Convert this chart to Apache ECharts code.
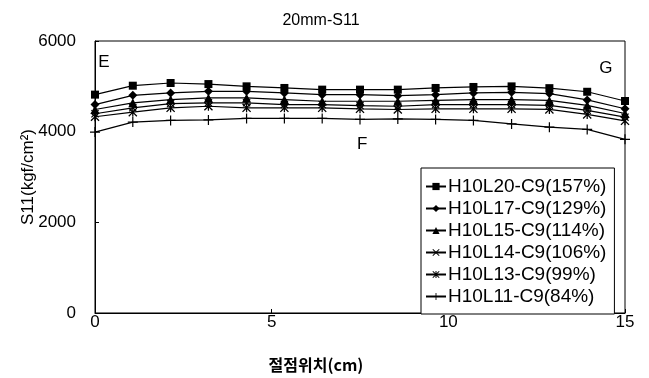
<!DOCTYPE html>
<html>
<head>
<meta charset="utf-8">
<script src="https://cdn.jsdelivr.net/npm/echarts@6/dist/echarts.min.js"></script>
<style>
  html, body { margin: 0; padding: 0; background: #fff; }
  #chart { width: 649px; height: 378px; }
</style>
</head>
<body>
<div id="chart"></div>
<script>
// Node positions along the section (cm)
const positions = [0, 1.07, 2.14, 3.21, 4.29, 5.36, 6.43, 7.5, 8.57, 9.64, 10.71, 11.79, 12.86, 13.93, 15];

// S11 stress per case (kgf/cm2)
const seriesNames = [
  'H10L20-C9(157%)',
  'H10L17-C9(129%)',
  'H10L15-C9(114%)',
  'H10L14-C9(106%)',
  'H10L13-C9(99%)',
  'H10L11-C9(84%)'
];
const s157 = [4817, 5014, 5073, 5050, 5000, 4964, 4927, 4927, 4927, 4964, 4986, 4999, 4960, 4880, 4677];
const s129 = [4598, 4802, 4854, 4890, 4890, 4854, 4817, 4817, 4795, 4817, 4854, 4868, 4840, 4700, 4506];
const s114 = [4489, 4636, 4708, 4745, 4745, 4708, 4671, 4671, 4671, 4692, 4708, 4708, 4690, 4580, 4400];
const s106 = [4395, 4526, 4620, 4636, 4636, 4598, 4598, 4576, 4561, 4598, 4598, 4598, 4580, 4470, 4320];
const s99  = [4329, 4430, 4526, 4561, 4526, 4526, 4526, 4504, 4489, 4504, 4504, 4504, 4490, 4380, 4240];
const s84  = [3990, 4211, 4248, 4260, 4292, 4292, 4292, 4270, 4280, 4270, 4248, 4170, 4100, 4050, 3830];

// Axis ticks
const xTicks = [0, 5, 10, 15];
const yTicks = [0, 2000, 4000, 6000];

// Region labels placed in data coordinates
const regionLabels = [
  { text: 'E', x: 0.25, y: 5540 },
  { text: 'G', x: 14.46, y: 5408 },
  { text: 'F', x: 7.56, y: 3722 }
];

const allValues = [s157, s129, s114, s106, s99, s84];

const symX = 'path://M1,0L5,4L9,0L10,1L6,5L10,9L9,10L5,6L1,10L0,9L4,5L0,1Z';
const symAst = 'path://M4.3,0H5.7V10H4.3Z M1,0L5,4L9,0L10,1L6,5L10,9L9,10L5,6L1,10L0,9L4,5L0,1Z';
const symPlus = 'path://M4.4,0H5.6V4.4H10V5.6H5.6V10H4.4V5.6H0V4.4H4.4Z';
const symbols = ['rect', 'diamond', 'triangle', symX, symAst, symPlus];
const symbolSizes = [8, 9, 9, 8, 9, 10];

const FONT = '"Liberation Sans", Arial, sans-serif';

const chart = echarts.init(document.getElementById('chart'), null, { renderer: 'canvas' });

const series = seriesNames.map((name, i) => ({
  name: name,
  type: 'line',
  data: positions.map((p, k) => [p, allValues[i][k]]),
  symbol: symbols[i],
  symbolSize: symbolSizes[i],
  showAllSymbol: true,
  lineStyle: { color: '#000', width: 1.2 },
  itemStyle: { color: '#000', borderColor: '#000', borderWidth: 0 },
  emphasis: { disabled: true },
  animation: false,
  z: 10 - i
}));

chart.setOption({
  animation: false,
  backgroundColor: '#fff',
  title: {
    text: '20mm-S11',
    left: 316,
    textAlign: 'center',
    top: 8,
    textStyle: { fontFamily: FONT, fontSize: 16, fontWeight: 'normal', color: '#000' }
  },
  grid: {
    left: 95, right: 24, top: 41, bottom: 63,
    show: true, borderColor: '#000', borderWidth: 1, backgroundColor: 'transparent'
  },
  legend: {
    orient: 'vertical',
    left: 421,
    top: 168,
    padding: [9, 8, 8, 4],
    itemGap: 3,
    itemWidth: 20,
    itemHeight: 9,
    backgroundColor: '#fff',
    borderColor: '#000',
    borderWidth: 1,
    textStyle: { fontFamily: FONT, fontSize: 19, lineHeight: 19, color: '#000', padding: [0, 0, 0, -3] },
    data: seriesNames
  },
  xAxis: {
    type: 'value',
    min: xTicks[0], max: xTicks[xTicks.length - 1], interval: 5,
    name: '절점위치(cm)',
    nameLocation: 'middle',
    nameGap: 44,
    nameMoveOverlap: false,
    nameTextStyle: {
      fontFamily: '"Noto Sans CJK KR", sans-serif', fontSize: 16, fontWeight: 'bold', color: '#000',
      padding: [0, 88, 0, 0]
    },
    axisLine: { lineStyle: { color: '#000', width: 1 } },
    axisTick: { inside: true, length: 4, lineStyle: { color: '#000' } },
    axisLabel: { fontFamily: FONT, fontSize: 17, color: '#000', margin: 1, formatter: v => String(v) },
    splitLine: { show: false }
  },
  yAxis: {
    type: 'value',
    min: yTicks[0], max: yTicks[yTicks.length - 1], interval: 2000,
    name: 'S11(kgf/cm²)',
    nameLocation: 'middle',
    nameGap: 58,
    nameMoveOverlap: false,
    nameTextStyle: { fontFamily: FONT, fontSize: 17, color: '#000' },
    axisLine: { show: true, lineStyle: { color: '#000', width: 1 } },
    axisTick: { show: true, inside: true, length: 4, lineStyle: { color: '#000' } },
    axisLabel: { fontFamily: FONT, fontSize: 17, color: '#000', margin: 19, formatter: v => String(v) },
    splitLine: { show: false }
  },
  series: series
});

// Region letters positioned through the chart's own coordinate system
chart.setOption({
  graphic: regionLabels.map(l => {
    const pt = chart.convertToPixel({ gridIndex: 0 }, [l.x, l.y]);
    return {
      type: 'text',
      x: pt[0], y: pt[1],
      style: {
        text: l.text, fill: '#000',
        font: '17px "Liberation Sans", Arial, sans-serif',
        textAlign: 'center', textVerticalAlign: 'middle'
      },
      z: 20
    };
  })
});
</script>
</body>
</html>
